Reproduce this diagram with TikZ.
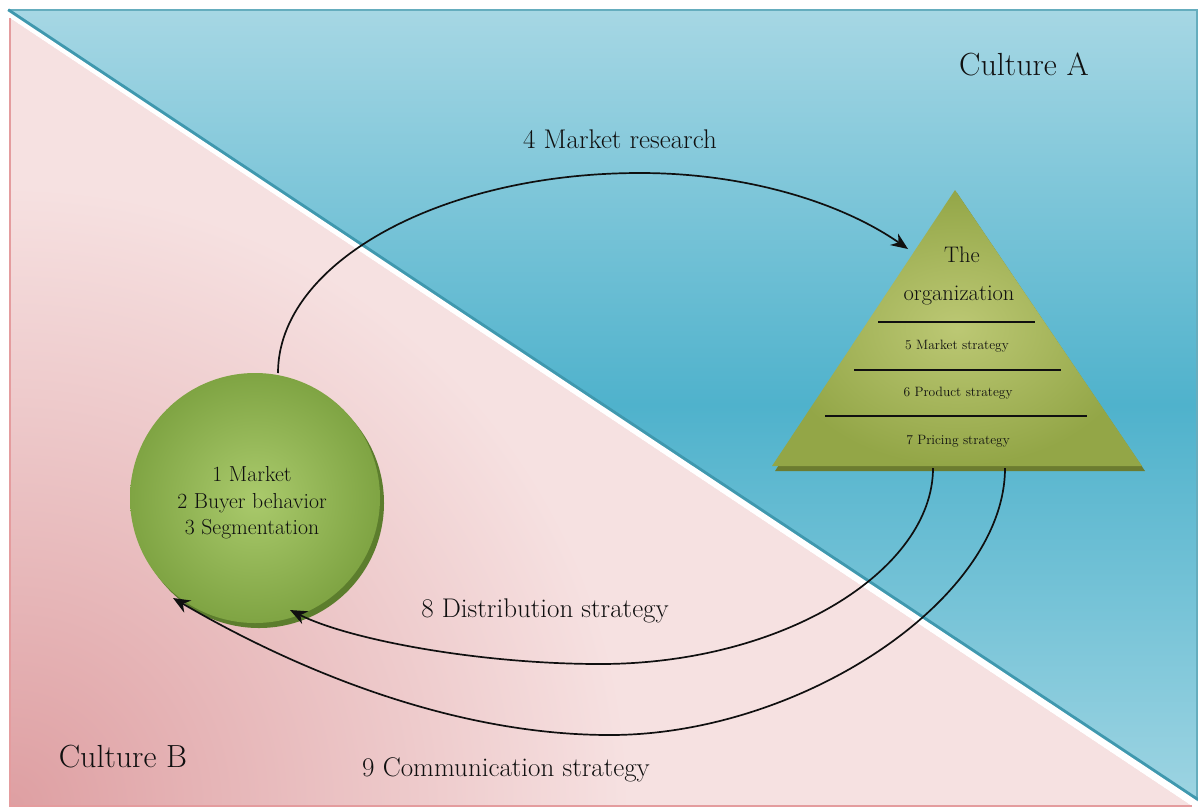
\documentclass[tikz,border=0pt]{standalone}
\usetikzlibrary{arrows.meta}
\definecolor{blueTop}{HTML}{A6D7E4}
\definecolor{blueMid}{HTML}{4FB2CC}
\definecolor{blueBot}{HTML}{9DD4E2}
\definecolor{blueEdge}{HTML}{3F98AE}
\definecolor{pinkDark}{HTML}{DE9FA2}
\definecolor{pinkLight}{HTML}{F6E1E1}
\definecolor{pinkEdge}{HTML}{E49C9E}
\definecolor{oliveOuter}{HTML}{93A647}
\definecolor{oliveInner}{HTML}{BCC874}
\definecolor{oliveShadow}{HTML}{6C7C30}
\definecolor{greenOuter}{HTML}{7FA443}
\definecolor{greenInner}{HTML}{AACA6C}
\definecolor{greenShadow}{HTML}{5C7D2D}
\definecolor{ink}{HTML}{101010}
\begin{document}
\begin{tikzpicture}[x=1pt,y=-1pt,
  conn/.style={line width=1.7pt, draw=ink, -{Stealth[length=17pt,width=14pt]}},
  bar/.style={line width=1.6pt, draw=ink},
  biglbl/.style={font=\fontsize{32}{38}\selectfont, text=ink, inner sep=0pt},
  lbl/.style={font=\fontsize{27}{32}\selectfont, text=ink, inner sep=0pt},
  orglbl/.style={font=\fontsize{22.5}{27}\selectfont, text=ink, inner sep=0pt},
  smalllbl/.style={font=\fontsize{13.5}{16}\selectfont, text=ink, inner sep=0pt},
  mktlbl/.style={font=\fontsize{21.7}{26.5}\selectfont, text=ink, inner sep=0pt, align=center}]
\useasboundingbox[fill=white] (0,0) rectangle (1198,807);

% Culture A region
\shade[top color=blueTop, bottom color=blueBot, middle color=blueMid]
  (8,10) -- (1198,10) -- (1198,800) -- cycle;
\draw[blueEdge!80, line width=2pt] (8,10) -- (1197,10) -- (1197,800);
\draw[blueEdge, line width=3.5pt] (8,10) -- (1198,800);
\draw[white, line width=3pt] (6.5,12.3) -- (1196.5,802.3);
% Culture B region
\begin{scope}
  \clip (10,18) -- (10,806) -- (1192,806) -- cycle;
  \fill[pinkLight] (10,18) -- (10,806) -- (1192,806) -- cycle;
  \shade[inner color=pinkDark, outer color=pinkLight] (10,806) circle[radius=620];
\end{scope}
\draw[pinkEdge, line width=1.5pt] (1192,806) -- (10,806) -- (10,18);

% Organization pyramid
\fill[oliveShadow] (957,193) -- (775,471) -- (1145,471) -- cycle;
\shade[inner color=oliveInner, outer color=oliveOuter]
  (955,190) -- (772,466) -- (1142,466) -- cycle;
\coordinate (apex) at (955,190);
\node[orglbl] (the) at (962,255) {The};
\node[orglbl] (org) at (959,296) {organization};
\draw[bar] (878,322) coordinate (l1a) -- (1035,322) coordinate (l1b);
\draw[bar] (854,370) coordinate (l2a) -- (1061,370) coordinate (l2b);
\draw[bar] (825,416) coordinate (l3a) -- (1087,416) coordinate (l3b);
\node[smalllbl] (s5) at (957,346) {5 Market strategy};
\node[smalllbl] (s6) at (958,393) {6 Product strategy};
\node[smalllbl] (s7) at (958,441) {7 Pricing strategy};

% Market circle
\fill[greenShadow] (259,503) circle[radius=125];
\node[circle, minimum size=250pt, inner sep=0pt, inner color=greenInner, outer color=greenOuter] (mkt) at (255,498) {};
\node[mktlbl] (mkttxt) at (252,503) {1 Market\\2 Buyer behavior\\3 Segmentation};

% connector end points
\coordinate (mrS) at (278,373);
\coordinate (mrTop) at (640,173);
\coordinate (mrE) at (908,249);
\coordinate (dS) at (933,468);
\coordinate (dBot) at (600,664);
\coordinate (dE) at (290,610);
\coordinate (cS) at (1005,468);
\coordinate (cBot) at (610,735);
\coordinate (cE) at (173,598);

\draw[conn] (mrS) .. controls (278,263) and (440,173) .. (mrTop)
  .. controls (747,173) and (842,203) .. (mrE);
\draw[conn] (dS) .. controls (933,570) and (784,664) .. (dBot)
  .. controls (480,664) and (350,640) .. (dE);
\draw[conn] (cS) .. controls (1005,600) and (800,735) .. (cBot)
  .. controls (420,735) and (245,640) .. (cE);

% labels
\node[biglbl] (cultA) at (1024,64) {Culture A};
\node[biglbl] (cultB) at (123,757) {Culture B};
\node[lbl] (mr) at (620,139) {4 Market research};
\node[lbl] (dist) at (545,611) {8 Distribution strategy};
\node[lbl] (comm) at (506,770) {9 Communication strategy};
\end{tikzpicture}
\end{document}
